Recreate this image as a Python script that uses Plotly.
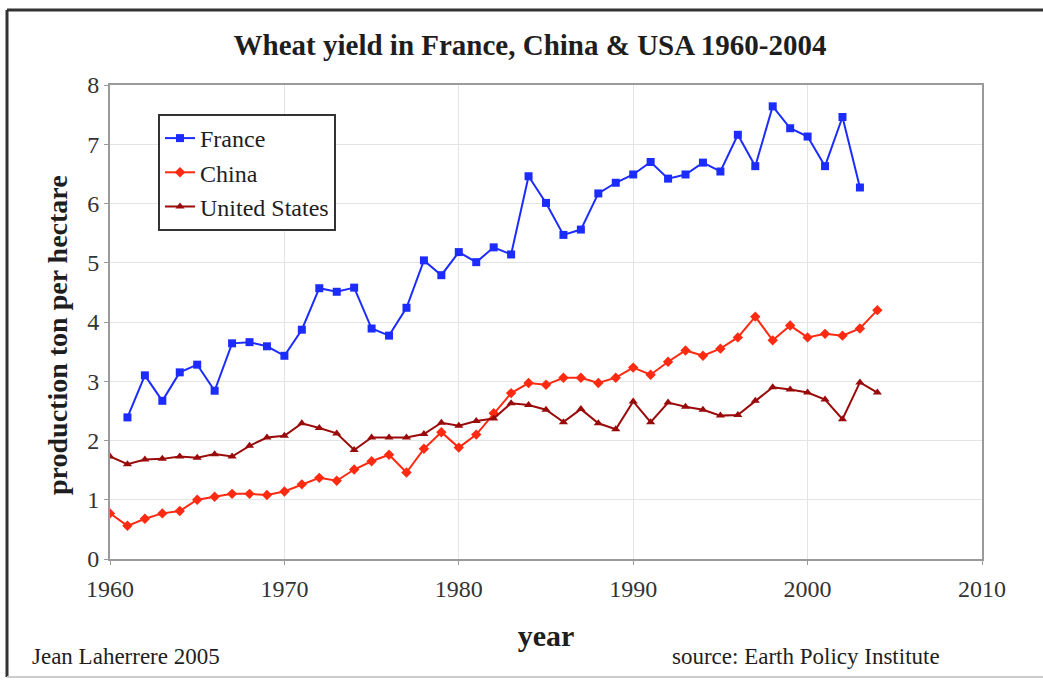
import plotly.graph_objects as go

# Wheat yield, tonnes per hectare
years_france = list(range(1961, 2004))
france = [2.39, 3.10, 2.67, 3.15, 3.28, 2.84, 3.64, 3.66, 3.59, 3.43,
          3.87, 4.57, 4.51, 4.58, 3.89, 3.77, 4.24, 5.04, 4.79, 5.18,
          5.01, 5.26, 5.14, 6.46, 6.01, 5.47, 5.56, 6.17, 6.35, 6.49,
          6.70, 6.42, 6.49, 6.69, 6.54, 7.16, 6.63, 7.64, 7.27, 7.13,
          6.63, 7.46, 6.27]

years_full = list(range(1960, 2005))
china = [0.77, 0.56, 0.68, 0.77, 0.81, 1.00, 1.05, 1.10, 1.10, 1.08,
         1.14, 1.26, 1.37, 1.32, 1.51, 1.65, 1.76, 1.46, 1.86, 2.14,
         1.88, 2.10, 2.46, 2.80, 2.97, 2.94, 3.06, 3.06, 2.97, 3.06,
         3.23, 3.11, 3.33, 3.52, 3.43, 3.55, 3.74, 4.09, 3.69, 3.94,
         3.74, 3.80, 3.77, 3.89, 4.20]
united_states = [1.73, 1.60, 1.68, 1.69, 1.73, 1.71, 1.77, 1.73, 1.91, 2.05,
                 2.08, 2.29, 2.21, 2.12, 1.84, 2.05, 2.05, 2.05, 2.11, 2.30,
                 2.25, 2.33, 2.37, 2.63, 2.60, 2.52, 2.31, 2.53, 2.29, 2.19,
                 2.66, 2.31, 2.64, 2.57, 2.52, 2.42, 2.43, 2.67, 2.90, 2.86,
                 2.81, 2.69, 2.36, 2.98, 2.81]

x_ticks = [1960, 1970, 1980, 1990, 2000, 2010]
y_ticks = [0, 1, 2, 3, 4, 5, 6, 7, 8]

SERIF = "Liberation Serif, Times New Roman, serif"
TEXT = "#1e1e1e"

fig = go.Figure()
fig.add_trace(go.Scatter(
    x=years_france, y=france, name="France", mode="lines+markers",
    line=dict(color="#1c2cff", width=2),
    marker=dict(symbol="square", size=8, color="#1c2cff")))
fig.add_trace(go.Scatter(
    x=years_full, y=china, name="China", mode="lines+markers",
    line=dict(color="#ff2a12", width=2),
    marker=dict(symbol="diamond", size=8, color="#ff2a12")))
fig.add_trace(go.Scatter(
    x=years_full, y=united_states, name="United States", mode="lines+markers",
    line=dict(color="#9a0a0a", width=2),
    marker=dict(symbol="triangle-up", size=8, color="#9a0a0a")))

W, H = 1043, 680
L, R, T, B = 110, 982, 85, 559


def px(x):
    return (x - L) / (R - L)


def py(y):
    return (B - y) / (B - T)


fig.update_layout(
    width=W, height=H,
    margin=dict(l=L, r=W - R, t=T, b=H - B),
    paper_bgcolor="white", plot_bgcolor="white",
    font=dict(family=SERIF, color=TEXT, size=22),
    showlegend=True,
    title=dict(text="<b>Wheat yield in France, China &amp; USA 1960-2004</b>",
               x=530 / W, xref="container", xanchor="center",
               y=1 - 45 / H, yref="container", yanchor="middle",
               font=dict(family=SERIF, size=29, color=TEXT)),
    legend=dict(x=px(158), y=py(114), xanchor="left", yanchor="top",
                bgcolor="white", bordercolor="#333333", borderwidth=2,
                font=dict(family=SERIF, size=24, color=TEXT),
                tracegroupgap=0, itemwidth=30),
    xaxis=dict(range=[1960, 2010], tickvals=x_ticks, ticktext=[str(v) for v in x_ticks],
               showgrid=True, gridcolor="#e4e4e4", gridwidth=1,
               showline=True, linecolor="#9a9a9a", linewidth=2, mirror=True,
               ticks="outside", ticklen=4, tickcolor="#9a9a9a",
               zeroline=False, ticklabelstandoff=3,
               tickfont=dict(family=SERIF, size=24, color="#333333"),
               title=dict(text="<b>year</b>", standoff=24,
                          font=dict(family=SERIF, size=30, color=TEXT))),
    yaxis=dict(range=[0, 8], tickvals=y_ticks,
               showgrid=True, gridcolor="#e4e4e4", gridwidth=1,
               showline=True, linecolor="#9a9a9a", linewidth=2, mirror=True,
               ticks="outside", ticklen=4, tickcolor="#9a9a9a",
               zeroline=False,
               tickfont=dict(family=SERIF, size=24, color="#333333")),
)

# Vertical axis title, a little below the plot centre
fig.add_annotation(text="<b>production ton per hectare</b>", textangle=-90,
                   xref="paper", yref="paper", x=px(57), y=py(335),
                   xanchor="center", yanchor="middle", showarrow=False,
                   font=dict(family=SERIF, size=28, color=TEXT))

# Outer frame around the whole graphic
fig.add_shape(type="line", xref="paper", yref="paper",
              x0=px(7), x1=px(7), y0=py(10), y1=py(677),
              line=dict(color="#333333", width=3))
fig.add_shape(type="line", xref="paper", yref="paper",
              x0=px(7), x1=px(1045), y0=py(10), y1=py(10),
              line=dict(color="#333333", width=3))
fig.add_shape(type="line", xref="paper", yref="paper",
              x0=px(7), x1=px(1045), y0=py(677), y1=py(677),
              line=dict(color="#cccccc", width=2))

# Credits at the bottom
fig.add_annotation(text="Jean Laherrere 2005", xref="paper", yref="paper",
                   x=px(30), y=py(656), xanchor="left", yanchor="middle",
                   showarrow=False, font=dict(family=SERIF, size=23, color=TEXT))
fig.add_annotation(text="source: Earth Policy Institute", xref="paper", yref="paper",
                   x=px(942), y=py(656), xanchor="right", yanchor="middle",
                   showarrow=False, font=dict(family=SERIF, size=23, color=TEXT))

fig.write_html("out.html")
